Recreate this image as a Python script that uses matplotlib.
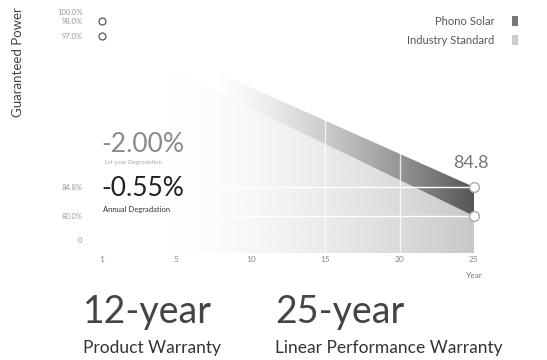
import numpy as np
import matplotlib
matplotlib.use("Agg")
import matplotlib.pyplot as plt
from matplotlib.patches import Patch

# data
years = [1, 25]
phono = [98.0, 84.8]
industry = [97.0, 80.0]
ytick_vals = [0, 80.0, 84.8, 97.0, 98.0, 100.0]
ytick_labels = ["0", "80.0%", "84.8%", "97.0%", "98.0%", "100.0%"]
xtick_vals = [1, 5, 10, 15, 20, 25]

# the original axes are hand-spaced, so use piecewise scales
y_knots = np.array([-5, 0, 80.0, 84.8, 97.0, 98.0, 100.0])
y_pos = np.array([-253, -240, -216, -187, -36, -21, -12], dtype=float)
x_knots = np.array([1, 5, 25])
x_pos = np.array([0, 5, 25], dtype=float)


def yf(v):
    return np.interp(v, y_knots, y_pos)


def yi(p):
    return np.interp(p, y_pos, y_knots)


def xf(v):
    return np.interp(v, x_knots, x_pos)


def xi(p):
    return np.interp(p, x_pos, x_knots)


plt.rcParams["font.family"] = ["Lato", "DejaVu Sans"]

W, H = 547, 360


def px(x, y):
    # pixel position -> figure fraction
    return x / W, 1 - y / H


fig = plt.figure(figsize=(W / 100, H / 100), dpi=100)
ax = fig.add_axes([102 / W, 1 - 253 / H, 372 / W, 241 / H])
ax.set_xscale("function", functions=(xf, xi))
ax.set_yscale("function", functions=(yf, yi))
ax.set_xlim(1, 25)
ax.set_ylim(-5, 100)

# faded fills (gradient left -> right)
f = np.linspace(0, 1, 256)


def grad_image(color, start, power, zorder, poly):
    a = np.clip((f - start) / (1 - start), 0, 1) ** power
    rgba = np.zeros((2, 256, 4))
    rgba[..., :3] = matplotlib.colors.to_rgb(color)
    rgba[..., 3] = a
    im = ax.imshow(rgba, extent=[0, 1, 0, 1], transform=ax.transAxes,
                   aspect="auto", zorder=zorder, interpolation="bilinear")
    path = poly.get_paths()[0]
    im.set_clip_path(path, poly.get_transform())


light = ax.fill_between(years, [-5, -5], industry, facecolor="none", edgecolor="none")
dark = ax.fill_between(years, industry, phono, facecolor="none", edgecolor="none")
grad_image("#c8c8c8", 0.15, 1.6, 1, light)
grad_image("#555555", 0.3, 1.4, 2, dark)

# white gridlines over the fills
for v in [84.8, 80.0]:
    ax.axhline(v, color="white", lw=1.0, zorder=3)
for v in [15, 20]:
    ax.axvline(v, color="white", lw=1.0, zorder=3, alpha=0.8)

# end markers
ax.plot([1, 1], [phono[0], industry[0]], "o", ms=5, mfc="white", mec="#555555",
        mew=0.9, clip_on=False, zorder=5)
ax.plot([25, 25], [phono[1], industry[1]], "o", ms=7, mfc="white", mec="#aaaaaa",
        mew=1.0, clip_on=False, zorder=5)
fig.text(*px(471, 163), "84.8", ha="center", va="center", fontsize=13,
         color="#777777")

# degradation callouts
fig.text(*px(101, 145), "-2.00%", fontsize=19, color="#8a8a8a", va="center", ha="left")
fig.text(*px(104, 163), "1st year Degradation", fontsize=4.5, color="#aaaaaa",
         va="center", ha="left")
fig.text(*px(101, 188), "-0.55%", fontsize=19, color="#222222", va="center", ha="left")
fig.text(*px(103, 209), "Annual Degradation", fontsize=5.5, color="#333333",
         va="center", ha="left")

# axes styling
for s in ax.spines.values():
    s.set_visible(False)
ax.set_yticks(ytick_vals)
ax.set_yticklabels(ytick_labels)
ax.set_xticks(xtick_vals)
ax.set_xticklabels([str(v) for v in xtick_vals])
ax.yaxis.set_minor_locator(matplotlib.ticker.NullLocator())
ax.xaxis.set_minor_locator(matplotlib.ticker.NullLocator())
ax.tick_params(axis="y", length=0, pad=14, labelsize=5.5, labelcolor="#999999")
ax.tick_params(axis="x", length=0, pad=2, labelsize=6, labelcolor="#888888")

fig.text(*px(18, 62), "Guaranteed Power", rotation=90, ha="center",
         va="center", fontsize=9.5, color="#444444")
fig.text(*px(474, 276), "Year", ha="center", va="center", fontsize=6,
         color="#777777")

handles = [Patch(facecolor="#777777", edgecolor="none", label="Phono Solar"),
           Patch(facecolor="#cccccc", edgecolor="none", label="Industry Standard")]
leg = fig.legend(handles=handles, loc="upper right", bbox_to_anchor=px(528, 6),
                 frameon=False, markerfirst=False, fontsize=8, handlelength=0.5,
                 handleheight=1.0, handletextpad=1.6, labelspacing=0.7)
for t in leg.get_texts():
    t.set_color("#555555")

# warranty headlines
fig.text(*px(83, 312), "12-year", ha="left", va="center", fontsize=27,
         color="#444444")
fig.text(*px(83, 348), "Product Warranty", ha="left", va="center",
         fontsize=12.5, color="#333333")
fig.text(*px(275, 312), "25-year", ha="left", va="center", fontsize=27,
         color="#444444")
fig.text(*px(275, 348), "Linear Performance Warranty", ha="left",
         va="center", fontsize=12.5, color="#333333")

fig.savefig("out.png", dpi=100)
